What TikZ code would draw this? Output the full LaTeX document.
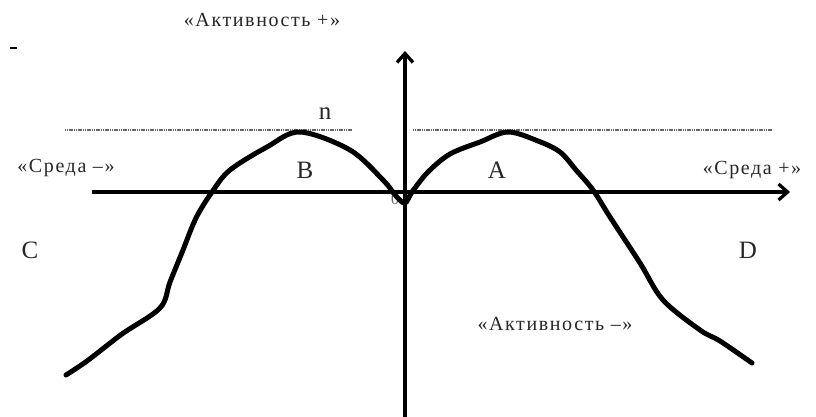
\documentclass[tikz,border=0pt]{standalone}
\usepackage{fontspec}
\setmainfont{Liberation Serif}
\usetikzlibrary{arrows.meta}
\begin{document}
\begin{tikzpicture}[x=1pt,y=-1pt,
  axis/.style={line width=3.3pt,-{Straight Barb[length=9pt,width=16pt,line width=3.3pt]}},
  levelline/.style={line width=1.8pt,draw=black!60,dash pattern=on 1.2pt off 0.6pt},
  curve/.style={line width=5pt,line join=round,line cap=round},
  letter/.style={font=\fontsize{25}{27}\selectfont,text=black!85},
  lab/.style={font=\fontsize{20}{22}\selectfont\addfontfeatures{LetterSpace=8},text=black!85}]
\useasboundingbox (0,0) rectangle (816,417);
% axes
\coordinate (xs) at (92,192);
\coordinate (xe) at (790,192);
\coordinate (ys) at (405,417);
\coordinate (ye) at (405,51);
\node[font=\fontsize{16}{18}\selectfont,text=black!60] (zero) at (395,199) {0};
\draw[axis] (xs) -- (xe);
\draw[axis] (ys) -- (ye);
% level lines
\coordinate (l1) at (65,130);
\coordinate (l2) at (352,130);
\coordinate (r1) at (413,130);
\coordinate (r2) at (773,130);
\draw[levelline] (l1) -- (l2);
\draw[levelline] (r1) -- (r2);
% small dash
\coordinate (d1) at (10,48);
\coordinate (d2) at (17,48);
\draw[line width=1.8pt] (d1) -- (d2);
% curve
\draw[curve] plot[smooth,tension=0.55] coordinates {
 (66,375) (87,361) (122,334) (160,308) (170,282) (183,250) (196,218)
 (212,192) (230,170) (267,147) (300,132) (350,150) (383,180) (396,196) (405,203)
 (412,192) (428,172) (450,154) (480,142) (508,132) (538,141) (560,152) (576,170)
 (593,190) (610,217) (640,263) (663,300) (700,330) (720,341) (752,363)};
% labels
\node[letter] (n) at (325,114) {n};
\node[letter] (B) at (305,170) {B};
\node[letter] (A) at (497,170) {A};
\node[letter] (C) at (30,250) {C};
\node[letter] (D) at (748,250) {D};
\node[lab] (sm) at (66,168) {«Среда –»};
\node[lab] (sp) at (752,170) {«Среда +»};
\node[lab] (ap) at (262,20) {«Активность +»};
\node[lab] (am) at (555,324) {«Активность –»};
\end{tikzpicture}
\end{document}
